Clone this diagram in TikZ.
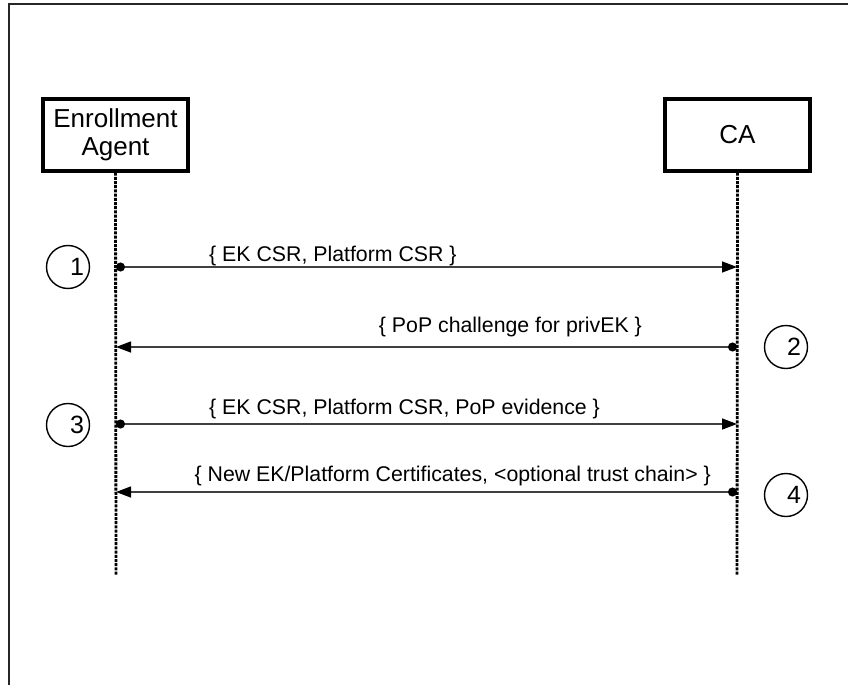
\documentclass[tikz,border=0pt]{standalone}
\usepackage{fontspec}
\setmainfont{Liberation Sans}
\usetikzlibrary{arrows.meta}
\begin{document}
\begin{tikzpicture}[x=1pt,y=-1pt,
  actor/.style={draw=black,line width=3.2pt,minimum width=145pt,minimum height=72pt,
    align=center,inner sep=0pt,font=\fontsize{26}{31}\selectfont},
  lifeline/.style={draw=black,line width=2.8pt,dash pattern=on 3pt off 1.2pt},
  msg/.style={draw=black!75,line width=1.4pt,
    {Circle[length=9pt,fill=black,black]}-{Triangle[length=15pt,width=11pt,fill=black,black]}},
  msglabel/.style={anchor=base,inner sep=0pt,font=\fontsize{21.3}{25}\selectfont},
  stepcirc/.style={draw=black,circle,line width=1.4pt,minimum size=43pt,inner sep=0pt},
  stepnum/.style={inner sep=0pt,font=\fontsize{25}{29}\selectfont}]
\useasboundingbox (0,0) rectangle (848,685);
\fill[white] (0,0) rectangle (848,685);
% open frame: top and left edges only
\draw[line width=2.2pt,black!85] (848,4) -- (9,4) -- (9,685);

% participants
\node[actor] (ea) at (115.5,135) {Enrollment\\[-3pt]Agent};
\node[actor] (ca) at (737.5,135) {CA};

% lifelines
\coordinate (eaend) at (116,575);
\coordinate (caend) at (737,575);
\draw[lifeline] (ea.south) -- (eaend);
\draw[lifeline] (ca.south) -- (caend);

% message end points on the lifelines
\coordinate (ea1) at (116,267); \coordinate (ca1) at (737,267);
\coordinate (ea2) at (116,347); \coordinate (ca2) at (737,347);
\coordinate (ea3) at (116,424); \coordinate (ca3) at (737,424);
\coordinate (ea4) at (116,492); \coordinate (ca4) at (737,492);

% messages
\draw[msg] (ea1) -- (ca1);
\draw[msg] (ca2) -- (ea2);
\draw[msg] (ea3) -- (ca3);
\draw[msg] (ca4) -- (ea4);

\node[msglabel,anchor=base west] (l1) at (209,261) {\{ EK CSR, Platform CSR \}};
\node[msglabel,anchor=base east] (l2) at (642,332) {\{ PoP challenge for privEK \}};
\node[msglabel,anchor=base west] (l3) at (209,414) {\{ EK CSR, Platform CSR, PoP evidence \}};
\node[msglabel,anchor=base east] (l4) at (711,481) {\{ New EK/Platform Certificates, <optional trust chain> \}};

% step markers
\node[stepcirc] (c1) at (68,267) {};
\node[stepnum] (n1) at ([xshift=9pt]c1.center) {1};
\node[stepcirc] (c2) at (786,347) {};
\node[stepnum] (n2) at ([xshift=8pt]c2.center) {2};
\node[stepcirc] (c3) at (68,425) {};
\node[stepnum] (n3) at ([xshift=9pt]c3.center) {3};
\node[stepcirc] (c4) at (786,495) {};
\node[stepnum] (n4) at ([xshift=8pt]c4.center) {4};
\end{tikzpicture}
\end{document}
